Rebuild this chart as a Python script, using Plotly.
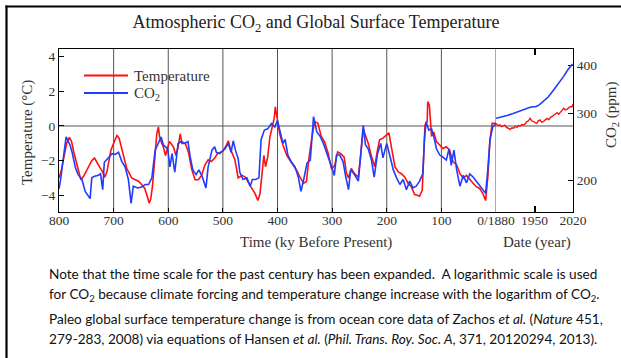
import plotly.graph_objects as go

# ---------------- data ----------------
# Paleo temperature (ky before present, degC)
temp_age = [800,796,791,786,781,777,773,769,765,760,755,750,745,740,735,730,725,720,716,712,
            709,705,700,694,690,685,680,676,670,667,660,654,648,643,638,635,632,629,626,623,
            621,618,616,612,609,605,601,598,594,590,586,582,578,575,569,563,557,551,545,539,
            533,527,521,515,510,504,500,495,490,486,478,472,465,459,453,447,441,436,432,428,
            425,422,418,414,410,406,404,400,396,390,383,377,371,365,359,352,347,343,337,332,
            326,320,314,307,301,295,290,284,278,274,270,265,259,252,248,243,240,234,228,222,
            217,213,207,200,196,191,185,179,173,167,161,155,149,144,140,135,132,130,126,125,
            122,118,114,109,103,97,91,85,79,72,66,60,54,48,42,36,30,24,19,15,
            11,7,0]
temp_val = [-3.0,-2.6,-1.8,-1.0,-0.65,-0.9,-1.5,-2.0,-2.6,-3.1,-2.9,-2.6,-2.3,-2.0,-1.85,-2.15,-2.4,-2.65,-2.95,-2.6,
            -2.0,-1.4,-1.0,-0.55,-0.7,-1.35,-2.0,-2.45,-2.8,-3.0,-3.1,-3.2,-3.4,-3.6,-4.1,-4.45,-4.2,-3.5,-2.4,-1.2,
            -0.45,-0.05,-0.6,-1.0,-1.2,-1.7,-1.15,-0.9,-1.05,-1.25,-1.7,-1.2,-0.45,-1.0,-1.0,-1.5,-2.5,-3.1,-3.1,-2.85,
            -2.25,-1.95,-2.05,-1.85,-1.6,-1.5,-1.45,-1.2,-0.85,-1.35,-1.95,-3.0,-2.85,-2.95,-3.3,-3.6,-3.9,-4.3,-3.9,-2.55,
            -1.7,-2.35,-1.8,-0.65,-0.05,0.45,1.1,0.25,-0.45,-1.1,-1.7,-2.0,-2.25,-2.55,-2.95,-3.3,-3.2,-2.0,-0.65,0.25,
            0.15,-0.6,-0.9,-1.6,-2.5,-2.25,-1.5,-1.6,-1.8,-2.7,-3.0,-2.45,-2.75,-2.95,-1.8,-0.15,-0.45,-1.0,-1.75,-2.35,
            -1.4,-0.8,-0.7,-0.5,-0.4,-1.3,-2.35,-2.65,-2.75,-2.95,-3.3,-3.5,-3.95,-4.0,-4.05,-3.7,-1.8,0.05,0.25,1.4,
            1.2,-0.6,-0.35,-0.9,-1.1,-1.3,-1.2,-1.4,-2.05,-2.25,-2.75,-3.0,-2.85,-3.1,-3.3,-3.5,-3.6,-3.9,-4.3,-2.95,
            -0.8,0.15,0.15]

# Paleo CO2 (ky before present, ppm)
co2_age = [800,797,791,787,783,780,776,773,770,765,758,752,747,743,740,735,729,724,720,717,
           710,703,697,691,685,679,673,668,664,656,649,642,636,630,624,618,613,609,601,597,
           593,588,582,576,570,564,560,555,549,544,538,531,527,520,515,512,506,496,490,485,
           481,477,472,469,463,456,450,446,440,434,430,424,418,411,405,400,396,390,386,381,
           375,368,362,357,352,346,340,334,328,322,316,308,301,296,292,286,280,275,270,266,
           260,252,246,243,239,234,228,223,217,211,207,200,194,188,182,176,170,164,158,152,
           146,140,134,131,128,123,118,114,109,103,97,91,86,82,77,72,66,60,54,48,
           42,36,30,24,19,15,11,6,0]
co2_ppm = [190,201,235,260,253,248,237,225,216,207,201,187,183,179,203,205,206,208,189,223,
           229,235,234,237,224,217,201,174,193,191,192,195,195,203,240,250,260,248,242,217,
           235,210,250,253,250,253,231,213,207,213,205,191,217,240,245,237,235,242,250,237,
           254,240,228,210,201,203,193,201,201,203,256,271,273,282,276,287,271,250,256,233,
           224,217,204,187,201,222,226,294,268,261,250,233,217,206,233,233,224,204,189,213,
           208,199,256,279,248,242,226,204,235,250,229,250,231,213,203,195,201,189,199,191,
           193,199,208,256,285,271,273,261,242,233,230,226,242,219,240,213,193,206,197,208,
           204,199,193,189,185,213,256,276,282]

# Instrumental period (year)
mod_temp_year = [1880,1884,1887,1890,1893,1896,1899,1903,1906,1909,1912,1915,1918,1921,1924,1927,1930,1933,
                 1936,1939,1942,1945,1948,1951,1954,1957,1960,1963,1966,1969,1973,1976,1979,1982,1985,1988,
                 1991,1994,1997,2000,2003,2006,2009,2012,2015,2018,2020]
mod_temp_val = [0.15,0.02,0.06,-0.04,0.0,0.05,-0.08,-0.12,-0.19,-0.1,-0.13,-0.02,-0.08,0.03,0.0,0.08,0.06,0.12,
                0.25,0.3,0.44,0.3,0.25,0.2,0.15,0.3,0.35,0.22,0.25,0.34,0.44,0.36,0.5,0.55,0.64,0.7,
                0.77,0.68,0.83,0.9,1.02,0.93,0.96,1.02,1.12,1.1,1.27]
mod_co2_year = [1880,1890,1900,1910,1920,1930,1936,1942,1948,1952,1958,1966,1975,1985,1995,2003,2010,2015,2019]
mod_co2_ppm = [291,293,296,299,303,306,309,311,312,312,315,322,331,346,361,375,389,398,404]

temp_ticks = [-4, -2, 0, 2, 4]
co2_ticks = [200, 300, 400]
paleo_ticks = [800, 700, 600, 500, 400, 300, 200, 100]
paleo_grid = [700, 600, 500, 400, 300, 200, 100, 0]
mod_ticks = [1880, 1950, 2020]
mod_ticktext = ["0/1880", "1950", "2020"]
legend_names = ["Temperature", "CO<sub>2</sub>"]

RED = "#ff1010"
BLUE = "#1f3cff"
SERIF = "Liberation Serif"
SANS = "Lato"

fig = go.Figure()
fig.add_trace(go.Scatter(x=temp_age, y=temp_val, xaxis="x", yaxis="y", mode="lines",
                         line=dict(color=RED, width=1.6), name=legend_names[0], showlegend=False))
fig.add_trace(go.Scatter(x=co2_age, y=co2_ppm, xaxis="x", yaxis="y2", mode="lines",
                         line=dict(color=BLUE, width=1.6), name=legend_names[1], showlegend=False))
fig.add_trace(go.Scatter(x=mod_temp_year, y=mod_temp_val, xaxis="x2", yaxis="y", mode="lines",
                         line=dict(color=RED, width=1.4), showlegend=False))
fig.add_trace(go.Scatter(x=mod_co2_year, y=mod_co2_ppm, xaxis="x2", yaxis="y2", mode="lines",
                         line=dict(color=BLUE, width=1.6), showlegend=False))

split = (496 - 59) / 514.0
tickfont = dict(family=SERIF, size=13.5, color="#333333")


def py(ypx):
    return (212 - ypx) / 163.0


def px(xpx):
    return (xpx - 59) / 514.0


shapes = []
for g in paleo_grid:
    shapes.append(dict(type="line", xref="x", yref="paper", x0=g, x1=g, y0=0, y1=1,
                       line=dict(color="#555555", width=1), layer="below"))
shapes.append(dict(type="line", xref="paper", yref="y", x0=0, x1=1, y0=0, y1=0,
                   line=dict(color="#555555", width=1), layer="below"))
# outer frame (left and top edges)
shapes.append(dict(type="line", xref="paper", yref="paper",
                   x0=px(6.5), x1=px(6.5), y0=py(370), y1=py(5.5),
                   line=dict(color="black", width=2.2)))
shapes.append(dict(type="line", xref="paper", yref="paper",
                   x0=px(5.5), x1=px(640), y0=py(6.5), y1=py(6.5),
                   line=dict(color="black", width=2.2)))
# legend samples
for ypx, col in [(75.5, RED), (93, BLUE)]:
    shapes.append(dict(type="line", xref="paper", yref="paper", x0=px(84), x1=px(128),
                       y0=py(ypx), y1=py(ypx), line=dict(color=col, width=2)))

ann_font = dict(family=SERIF, size=15, color="#333333")
annotations = [
    dict(text="Time (ky Before Present)", x=px(316), y=py(242), xref="paper", yref="paper",
         xanchor="center", yanchor="middle", showarrow=False, font=ann_font),
    dict(text="Date (year)", x=px(537), y=py(242), xref="paper", yref="paper",
         xanchor="center", yanchor="middle", showarrow=False, font=ann_font),
    dict(text="Temperature (°C)", x=px(27), y=py(133), xref="paper", yref="paper", textangle=-90,
         xanchor="center", yanchor="middle", showarrow=False, font=ann_font),
    dict(text="CO<sub>2</sub> (ppm)", x=px(612), y=py(115), xref="paper", yref="paper", textangle=-90,
         xanchor="center", yanchor="middle", showarrow=False, font=ann_font),
    dict(text=legend_names[0], x=px(132), y=py(75.5), xref="paper", yref="paper",
         xanchor="left", yanchor="middle", showarrow=False, font=ann_font),
    dict(text=legend_names[1], x=px(132), y=py(94), xref="paper", yref="paper",
         xanchor="left", yanchor="middle", showarrow=False, font=ann_font),
]
caption = [
    ("Note that the time scale for the past century has been expanded.&nbsp; A logarithmic scale is used", 273.5),
    ("for CO<sub>2</sub> because climate forcing and temperature change increase with the logarithm of CO<sub>2</sub>.", 295),
    ("Paleo global surface temperature change is from ocean core data of Zachos <i>et al.</i> (<i>Nature</i> 451,", 318.5),
    ("279-283, 2008) via equations of Hansen <i>et al.</i> (<i>Phil. Trans. Roy. Soc. A</i>, 371, 20120294, 2013).", 339),
]
for txt, ypx in caption:
    annotations.append(dict(text=txt, x=px(47), y=py(ypx), xref="paper", yref="paper",
                            xanchor="left", yanchor="middle", showarrow=False,
                            font=dict(family=SANS, size=13.6, color="#111111")))

fig.update_layout(
    width=621, height=358,
    margin=dict(l=59, r=48, t=49, b=146),
    paper_bgcolor="white", plot_bgcolor="white",
    title=dict(text="Atmospheric CO<sub>2</sub> and Global Surface Temperature",
               x=0.5, xref="paper", xanchor="center", y=1 - 22 / 358.0, yanchor="middle",
               font=dict(family=SERIF, size=18, color="#222222")),
    showlegend=False,
    xaxis=dict(domain=[0, split], range=[800, 0], tickmode="array", tickvals=paleo_ticks,
               showgrid=False, zeroline=False, ticks="inside", ticklen=4, tickcolor="black",
               showline=True, linecolor="black", linewidth=1, mirror=True, tickfont=tickfont,
               ticklabelstandoff=-4, anchor="y"),
    xaxis2=dict(domain=[split, 1], range=[1880, 2020], tickmode="array", tickvals=mod_ticks,
                ticktext=mod_ticktext, showgrid=False, zeroline=False, ticks="inside", ticklen=6,
                tickwidth=2, tickcolor="black", showline=True, linecolor="black", linewidth=1,
                mirror="ticks", tickfont=tickfont, ticklabelstandoff=-4, anchor="y"),
    yaxis=dict(range=[-4.96, 4.44], tickmode="array", tickvals=temp_ticks, showgrid=False,
               zeroline=False, ticks="inside", ticklen=5, tickcolor="black", showline=True,
               linecolor="black", linewidth=1, tickfont=tickfont, anchor="x"),
    yaxis2=dict(type="log", range=[2.2178, 2.6459], tickmode="array", tickvals=co2_ticks,
                side="right", overlaying="y", anchor="x2", showgrid=False, zeroline=False,
                ticks="inside", ticklen=5, tickcolor="black", showline=True, linecolor="black",
                linewidth=1, tickfont=tickfont),
    shapes=shapes,
    annotations=annotations,
)

fig.write_html("out.html")
